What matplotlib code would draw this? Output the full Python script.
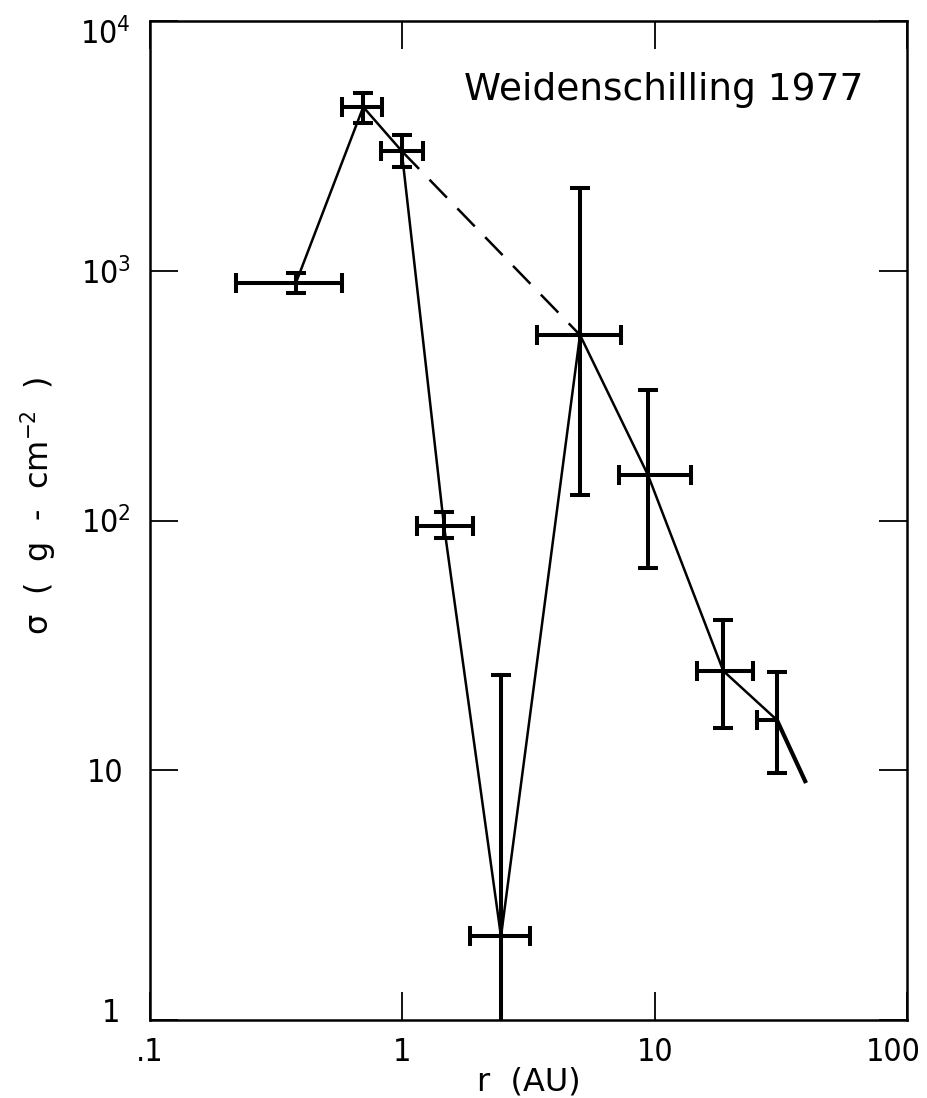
import matplotlib
matplotlib.use("Agg")
import matplotlib.pyplot as plt
import matplotlib.transforms as mtransforms
from matplotlib import font_manager

# ---- data ----
bodies = ["Mercury", "Venus", "Earth", "Mars", "Asteroids",
          "Jupiter", "Saturn", "Uranus", "Neptune"]
r_au = [0.379, 0.700, 0.994, 1.463, 2.46, 5.06, 9.41, 18.7, 30.5]
sigma = [896, 4525, 3017, 95, 2.16, 553, 152, 25.0, 15.9]
r_low = [0.219, 0.575, 0.823, 1.144, 1.86, 3.42, 7.22, 14.7, 25.4]
r_high = [0.575, 0.831, 1.208, 1.906, 3.21, 7.34, 13.93, 24.5, 30.5]
sigma_low = [812, 3904, 2603, 85.3, 0.5, 126.5, 64.5, 14.8, 9.75]
sigma_high = [982, 5150, 3496, 108.5, 24.0, 2144, 333, 40.0, 24.8]

# extrapolated end of the outer power law
end_r = [30.5, 39.8]
end_sigma = [15.9, 8.89]

# dashed smooth curve from Earth to Jupiter
dash_r = [0.994, 5.06]
dash_sigma = [3017, 553]

x_ticks = [0.1, 1, 10, 100]
x_ticklabels = [".1", "1", "10", "100"]
y_ticks = [1, 10, 100, 1000, 10000]
y_ticklabels = ["1", "10", "$10^2$", "$10^3$", "$10^4$"]

# use a condensed sans for the tick labels if one is installed
names = {f.name for f in font_manager.fontManager.ttflist}
cond = None
for f in font_manager.fontManager.ttflist:
    if f.name == 'DejaVu Sans' and 'ondensed' in f.fname and 'Bold' not in f.fname \
            and 'Oblique' not in f.fname:
        cond = f.fname
        break
if cond is not None:
    tick_family = 'DejaVu Sans'
    tick_stretch = 'condensed'
elif 'Liberation Sans Narrow' in names:
    tick_family = 'Liberation Sans Narrow'
    tick_stretch = 'normal'
else:
    tick_family = 'DejaVu Sans'
    tick_stretch = 'normal'

plt.rcParams['font.family'] = ['DejaVu Sans']
if tick_stretch == 'condensed':
    plt.rcParams['mathtext.fontset'] = 'custom'
    plt.rcParams['mathtext.rm'] = 'DejaVu Sans:stretch=condensed'
    plt.rcParams['mathtext.it'] = 'DejaVu Sans:stretch=condensed:italic'
elif tick_family == 'Liberation Sans Narrow':
    plt.rcParams['mathtext.fontset'] = 'custom'
    plt.rcParams['mathtext.rm'] = 'Liberation Sans Narrow'
    plt.rcParams['mathtext.it'] = 'Liberation Sans Narrow:italic'
else:
    plt.rcParams['mathtext.fontset'] = 'dejavusans'

fig = plt.figure(figsize=(9.27, 10.98), dpi=100)
ax = fig.add_axes([150/927, 1 - 1020/1098, 757/927, 999/1098])
ax.set_xscale('log')
ax.set_yscale('log')
ax.set_xlim(0.1, 100)
ax.set_ylim(1, 10000)

# connecting lines
ax.plot(r_au, sigma, color='black', lw=1.8, solid_capstyle='butt', zorder=2)
ax.plot(dash_r, dash_sigma, color='black', lw=1.8,
        linestyle=(0, (10, 6)), zorder=2)
ax.plot(end_r, end_sigma, color='black', lw=3.0, solid_capstyle='butt', zorder=2)

xerr = [[c - lo for c, lo in zip(r_au, r_low)],
        [hi - c for c, hi in zip(r_au, r_high)]]
yerr = [[c - lo for c, lo in zip(sigma, sigma_low)],
        [hi - c for c, hi in zip(sigma, sigma_high)]]
ax.errorbar(r_au, sigma, xerr=xerr, yerr=yerr, fmt='none', ecolor='black',
            elinewidth=2.9, capsize=7, capthick=2.9, zorder=3)

ax.minorticks_off()
ax.set_xticks(x_ticks)
ax.set_xticklabels(x_ticklabels)
ax.set_yticks(y_ticks)
ax.set_yticklabels(y_ticklabels, ha='center')
ax.tick_params(which='major', direction='in', length=20, width=1.3,
               top=True, right=True, labelsize=23, colors='black')
ax.tick_params(axis='x', pad=12)
ax.tick_params(axis='y', pad=32)
for lab in ax.get_xticklabels() + ax.get_yticklabels():
    lab.set_family(tick_family)
    lab.set_stretch(tick_stretch)
for s in ax.spines.values():
    s.set_linewidth(1.8)

# small nudges so edge labels stay inside the figure, as in the reference
xlabs = ax.get_xticklabels()
xlabs[-1].set_transform(xlabs[-1].get_transform() +
                        mtransforms.ScaledTranslation(-10/72, 0, fig.dpi_scale_trans))
ylabs = ax.get_yticklabels()
ylabs[-1].set_transform(ylabs[-1].get_transform() +
                        mtransforms.ScaledTranslation(0, -7/72, fig.dpi_scale_trans))
ylabs[0].set_transform(ylabs[0].get_transform() +
                       mtransforms.ScaledTranslation(4/72, 7/72, fig.dpi_scale_trans))

ax.set_xlabel("r  (AU)", fontsize=23, labelpad=-1)
ax.set_ylabel("σ  (  g  -  cm$^{-2}$  )", fontsize=23)
ax.yaxis.set_label_coords(-0.122, 0.514)

ax.text(0.679, 0.931, "Weidenschilling 1977", transform=ax.transAxes,
        ha='center', va='center', fontsize=27, color='black')

fig.savefig("out.png", dpi=100)
